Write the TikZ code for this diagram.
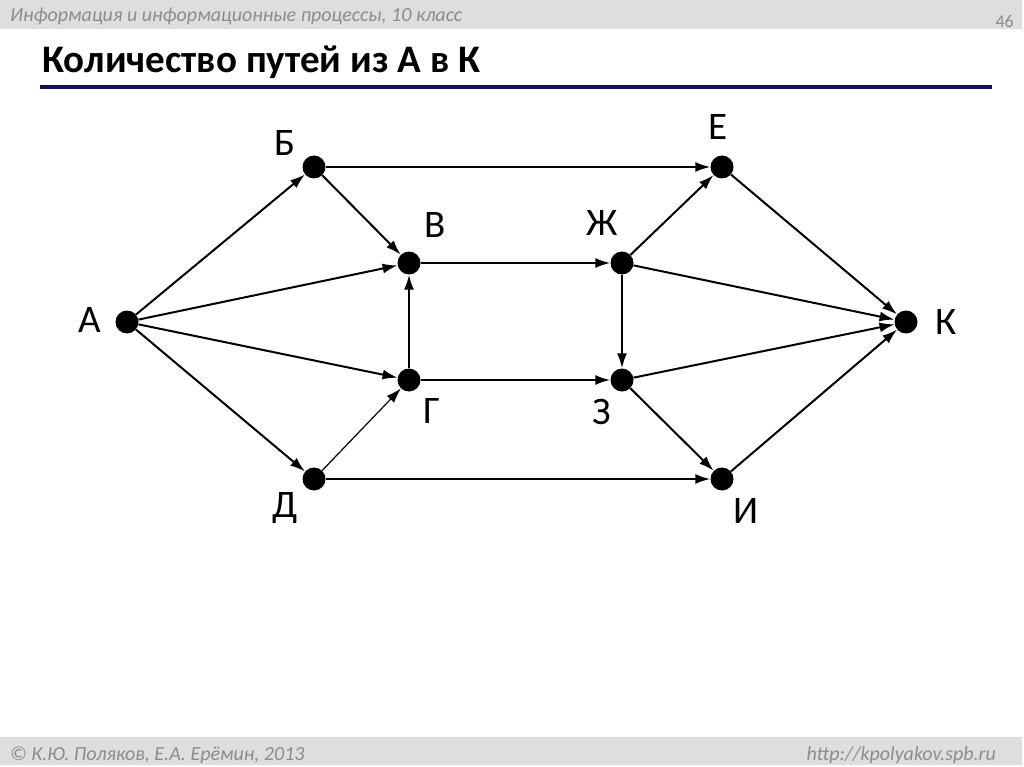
\documentclass[tikz,border=0pt]{standalone}
\usepackage{fontspec}
\setmainfont{Carlito}
\usetikzlibrary{arrows.meta}
\definecolor{barGray}{RGB}{222,222,222}
\definecolor{textGray}{RGB}{140,140,140}
\definecolor{lineBlue}{RGB}{14,14,110}

\begin{document}
\begin{tikzpicture}[x=1pt,y=-1pt,
  vertex/.style={circle,fill=black,inner sep=0pt,minimum size=23pt},
  lbl/.style={anchor=base,inner sep=0pt,font=\fontsize{39}{42}\selectfont},
  edge/.style={line width=2pt,-{Latex[length=15pt,width=10pt]}}]
\useasboundingbox (0,0) rectangle (1024,767);
\fill[white] (0,0) rectangle (1024,767);

% header and footer bars
\fill[barGray] (0,0) rectangle (1022,29);
\fill[barGray] (0,737) rectangle (1022,765);
\node[anchor=base west,inner sep=0pt,text=textGray,font=\fontsize{20}{22}\itshape] (head) at (10,22) {Информация и информационные процессы, 10 класс};
\node[anchor=base east,inner sep=0pt,text=textGray,font=\fontsize{18}{20}\selectfont] (page) at (1014,28) {46};
\node[anchor=base west,inner sep=0pt,text=textGray,font=\fontsize{20}{22}\itshape] (copy) at (10,760) {© К.Ю. Поляков, Е.А. Ерёмин, 2013};
\node[anchor=base east,inner sep=0pt,text=textGray,font=\fontsize{20}{22}\itshape] (url) at (996,760) {http://kpolyakov.spb.ru};

% title
\node[anchor=base west,inner sep=0pt,font=\fontsize{39}{42}\bfseries] (title) at (42,73) {Количество путей из А в К};
\draw[lineBlue,line width=4pt] (40,87) -- (992,87);

% vertices
\node[vertex] (A) at (127,322) {};
\node[vertex] (B) at (314,167) {};
\node[vertex] (V) at (409,263) {};
\node[vertex] (G) at (409,380) {};
\node[vertex] (D) at (314,479) {};
\node[vertex] (E) at (722,167) {};
\node[vertex] (Zh) at (622,263) {};
\node[vertex] (Z) at (622,380) {};
\node[vertex] (I) at (722,479) {};
\node[vertex] (K) at (906,322) {};

% labels
\node[lbl] (lA) at (90,332) {А};
\node[lbl] (lB) at (285,156) {Б};
\node[lbl] (lV) at (435,237) {В};
\node[lbl] (lG) at (432,423) {Г};
\node[lbl] (lD) at (285,517) {Д};
\node[lbl] (lE) at (718,140) {Е};
\node[lbl] (lZh) at (602,236) {Ж};
\node[lbl] (lZ) at (602,424) {З};
\node[lbl] (lI) at (746,523) {И};
\node[lbl] (lK) at (946,334) {К};

% edges
\draw[edge] (A) -- (B);
\draw[edge] (A) -- (V);
\draw[edge] (A) -- (G);
\draw[edge] (A) -- (D);
\draw[edge] (B) -- (V);
\draw[edge] (B) -- (E);
\draw[edge] (G) -- (V);
\draw[edge,line width=1.2pt] (D) -- (G);
\draw[edge] (D) -- (I);
\draw[edge] (V) -- (Zh);
\draw[edge] (G) -- (Z);
\draw[edge] (Zh) -- (Z);
\draw[edge] (Zh) -- (E);
\draw[edge] (Zh) -- (K);
\draw[edge] (Z) -- (K);
\draw[edge] (Z) -- (I);
\draw[edge] (E) -- (K);
\draw[edge] (I) -- (K);
\end{tikzpicture}
\end{document}
